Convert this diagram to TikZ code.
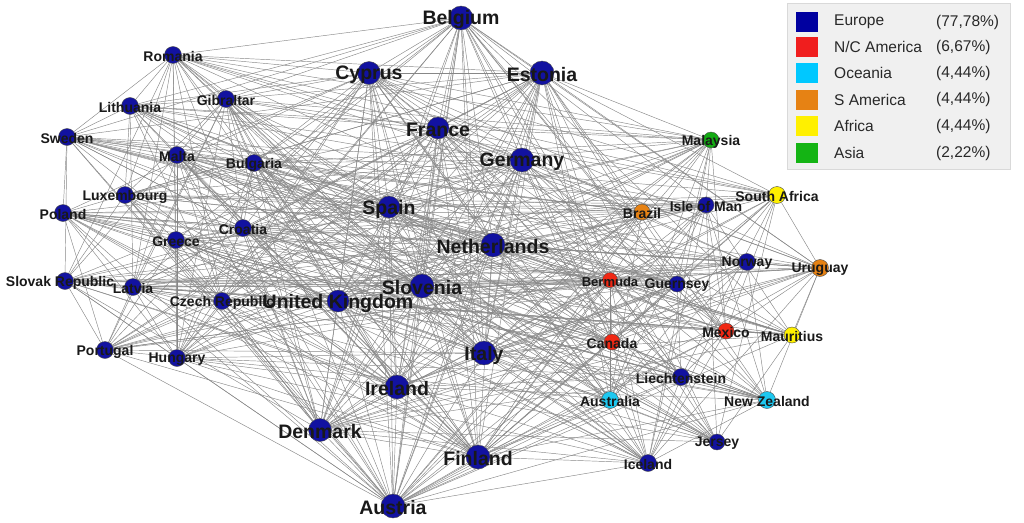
\documentclass[tikz,border=0pt]{standalone}
\usepackage{fontspec}
\setmainfont{Liberation Sans}
\usetikzlibrary{backgrounds}
\definecolor{eublue}{RGB}{18,18,160}
\definecolor{ncred}{RGB}{240,40,20}
\definecolor{ocyan}{RGB}{30,200,240}
\definecolor{saorange}{RGB}{230,130,20}
\definecolor{afyellow}{RGB}{255,240,0}
\definecolor{asgreen}{RGB}{20,170,20}
\definecolor{legbg}{RGB}{240,240,240}
\definecolor{legtext}{RGB}{40,40,40}
\definecolor{edgegray}{RGB}{135,135,135}
\definecolor{swEUc}{RGB}{0,0,160}
\definecolor{swNCc}{RGB}{240,30,30}
\definecolor{swOCc}{RGB}{0,200,255}
\definecolor{swSAc}{RGB}{230,130,20}
\definecolor{swAFc}{RGB}{255,240,0}
\definecolor{swASc}{RGB}{20,180,20}
\begin{document}
\begin{tikzpicture}[x=1pt,y=-1pt,
  nd/.style={circle,inner sep=0pt,draw=black!70,line width=0.4pt,minimum size=17pt},
  eu/.style={nd,fill=eublue},
  nc/.style={nd,fill=ncred},
  oc/.style={nd,fill=ocyan},
  sa/.style={nd,fill=saorange},
  af/.style={nd,fill=afyellow},
  as/.style={nd,fill=asgreen},
  big/.style={minimum size=24pt},
  tiny/.style={minimum size=15pt},
  sl/.style={label={[font=\bfseries\fontsize{14}{14}\selectfont,text=black!90,yshift=-1.5pt]center:#1}},
  bl/.style={label={[font=\bfseries\fontsize{19.5}{20}\selectfont,text=black!90,yshift=-2pt]center:#1}},
  edge/.style={draw=edgegray,line width=0.45pt},
  sw/.style={inner sep=0pt,minimum width=22pt,minimum height=20pt},
  lt/.style={anchor=west,inner sep=0pt,text=legtext,font=\fontsize{15.5}{16}\selectfont}
]
\path[use as bounding box] (0,0) rectangle (1024,522);

% big European nodes
\node[eu,big,bl=Belgium] (belgium) at (461,18) {};
\node[eu,big,minimum size=23pt,bl=Cyprus] (cyprus) at (369,73) {};
\node[eu,big,bl=Estonia] (estonia) at (542,73) {};
\node[eu,big,minimum size=22pt,bl=France] (france) at (438,128) {};
\node[eu,big,bl=Germany] (germany) at (522,160) {};
\node[eu,big,minimum size=22pt,bl=Spain] (spain) at (389,207) {};
\node[eu,big,bl=Netherlands] (netherlands) at (493,245) {};
\node[eu,big,bl=Slovenia] (slovenia) at (422,286) {};
\node[eu,big,minimum size=22pt,bl=United Kingdom] (uk) at (338,301) {};
\node[eu,big,bl=Italy] (italy) at (484,353) {};
\node[eu,big,bl=Ireland] (ireland) at (397,387) {};
\node[eu,big,minimum size=23pt,bl=Denmark] (denmark) at (320,430) {};
\node[eu,big,bl=Finland] (finland) at (478,457) {};
\node[eu,big,bl=Austria] (austria) at (393,506) {};

% small European nodes (left)
\node[eu,sl=Romania] (romania) at (173,55) {};
\node[eu,sl=Gibraltar] (gibraltar) at (226,99) {};
\node[eu,sl=Lithuania] (lithuania) at (130,106) {};
\node[eu,sl=Sweden] (sweden) at (67,137) {};
\node[eu,sl=Malta] (malta) at (177,155) {};
\node[eu,sl=Bulgaria] (bulgaria) at (254,163) {};
\node[eu,sl=Luxembourg] (luxembourg) at (125,195) {};
\node[eu,sl=Poland] (poland) at (63,213) {};
\node[eu,sl=Croatia] (croatia) at (243,228) {};
\node[eu,sl=Greece] (greece) at (176,240) {};
\node[eu,label={[font=\bfseries\fontsize{14}{14}\selectfont,text=black!90,yshift=-1.5pt,xshift=-5pt]center:Slovak Republic}] (slovak) at (65,281) {};
\node[eu,sl=Latvia] (latvia) at (133,287) {};
\node[eu,sl=Czech Republic] (czech) at (222,301) {};
\node[eu,sl=Portugal] (portugal) at (105,350) {};
\node[eu,sl=Hungary] (hungary) at (177,358) {};

% right cluster
\node[as,minimum size=16pt,sl=Malaysia] (malaysia) at (711,140) {};
\node[af,sl=South Africa] (southafrica) at (777,195) {};
\node[sa,minimum size=16pt,sl=Brazil] (brazil) at (642,212) {};
\node[eu,minimum size=16pt,sl=Isle of Man] (isleofman) at (706,205) {};
\node[eu,sl=Norway] (norway) at (747,262) {};
\node[sa,sl=Uruguay] (uruguay) at (820,268) {};
\node[nc,tiny,label={[font=\bfseries\fontsize{13}{13}\selectfont,text=black!90,yshift=-1.5pt]center:Bermuda}] (bermuda) at (610,280) {};
\node[eu,minimum size=16pt,sl=Guernsey] (guernsey) at (677,284) {};
\node[nc,minimum size=16pt,sl=Mexico] (mexico) at (726,331) {};
\node[af,minimum size=16pt,sl=Mauritius] (mauritius) at (792,335) {};
\node[nc,minimum size=16pt,sl=Canada] (canada) at (612,342) {};
\node[eu,sl=Liechtenstein] (liechtenstein) at (681,377) {};
\node[oc,sl=Australia] (australia) at (610,400) {};
\node[oc,sl=New Zealand] (newzealand) at (767,400) {};
\node[eu,minimum size=16pt,sl=Jersey] (jersey) at (717,442) {};
\node[eu,sl=Iceland] (iceland) at (648,463) {};

% edges
\def\nodelist{belgium/10,cyprus/10,estonia/10,france/10,germany/10,spain/10,netherlands/10,slovenia/10,uk/10,italy/10,ireland/10,denmark/10,finland/10,austria/10,romania/7,gibraltar/7,lithuania/7,sweden/7,malta/7,bulgaria/7,luxembourg/7,poland/7,croatia/7,greece/7,slovak/7,latvia/7,czech/7,portugal/7,hungary/7,malaysia/7,southafrica/7,brazil/7,isleofman/7,norway/7,uruguay/7,bermuda/7,guernsey/7,mexico/7,mauritius/7,canada/7,liechtenstein/7,australia/7,newzealand/7,jersey/7,iceland/7}
\begin{scope}[on background layer]
\foreach \a/\wa [count=\i] in \nodelist {
  \foreach \b/\wb [count=\j] in \nodelist {
    \ifnum\j>\i
      \pgfmathtruncatemacro\h{mod(mod(\i*\i,101)*7+mod(\j*\j,101)*11+mod(\i*\j,101)*23+5,101)}
      \pgfmathtruncatemacro\p{\wa*\wb}
      \ifnum\h<\p \draw[edge] (\a) -- (\b); \fi
    \fi
  }
}
\end{scope}

% legend
\node[fill=legbg,draw=black!15,line width=0.3pt,anchor=north west,inner sep=0pt,minimum width=223pt,minimum height=166pt] (legend) at (787,3) {};
\node[sw,fill=swEUc] (swEU) at (807,22) {};
\node[sw,fill=swNCc] (swNC) at (807,47) {};
\node[sw,fill=swOCc] (swOC) at (807,73) {};
\node[sw,fill=swSAc] (swSA) at (807,99.5) {};
\node[sw,fill=swAFc] (swAF) at (807,126) {};
\node[sw,fill=swASc] (swAS) at (807,153) {};
\node[lt] (tEU) at (834,22) {Europe};
\node[lt] (tNC) at (834,47) {N/C America};
\node[lt] (tOC) at (834,73) {Oceania};
\node[lt] (tSA) at (834,99.5) {S America};
\node[lt] (tAF) at (834,126) {Africa};
\node[lt] (tAS) at (834,153) {Asia};
\node[lt] (pEU) at (936,22) {(77,78\%)};
\node[lt] (pNC) at (936,47) {(6,67\%)};
\node[lt] (pOC) at (936,73) {(4,44\%)};
\node[lt] (pSA) at (936,99.5) {(4,44\%)};
\node[lt] (pAF) at (936,126) {(4,44\%)};
\node[lt] (pAS) at (936,153) {(2,22\%)};
\end{tikzpicture}
\end{document}
